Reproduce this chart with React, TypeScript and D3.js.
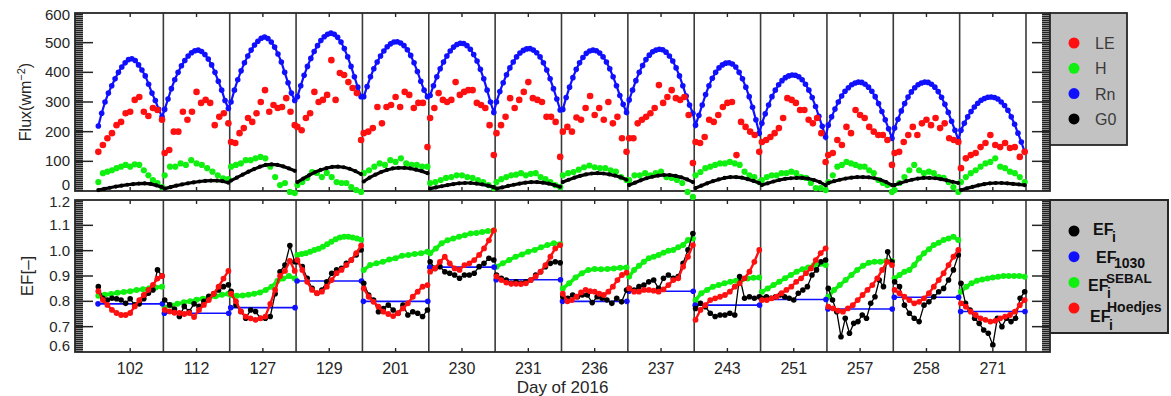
import React, { useEffect, useRef } from 'react';
import * as d3 from 'd3';

const days = ['102', '112', '127', '129', '201', '230', '231', '236', '237', '243', '251', '257', '258', '271'];

// top panel, W m-2, one array per day
const rn = [
  [219, 262, 300, 330, 355, 378, 400, 418, 432, 443, 446, 440, 425, 408, 388, 360, 330, 305, 275, 250],
  [275, 310, 345, 375, 400, 422, 440, 455, 466, 473, 475, 470, 460, 445, 425, 400, 370, 340, 305, 278],
  [300, 340, 375, 405, 432, 455, 475, 492, 505, 515, 519, 514, 502, 485, 462, 435, 400, 365, 330, 305],
  [318, 355, 390, 420, 447, 470, 490, 507, 520, 528, 532, 528, 518, 502, 480, 452, 420, 385, 350, 318],
  [318, 352, 385, 412, 435, 455, 472, 486, 496, 502, 503, 499, 490, 476, 457, 432, 403, 370, 340, 318],
  [322, 355, 385, 412, 435, 455, 472, 485, 494, 498, 497, 490, 478, 460, 438, 410, 378, 340, 300, 265],
  [300, 335, 365, 392, 415, 435, 452, 465, 474, 479, 480, 475, 466, 452, 432, 408, 378, 345, 310, 273],
  [275, 315, 350, 382, 410, 432, 450, 464, 472, 475, 473, 465, 452, 435, 412, 385, 355, 322, 292, 265],
  [307, 340, 372, 400, 423, 443, 458, 469, 475, 478, 476, 468, 455, 438, 415, 388, 355, 320, 290, 262],
  [222, 255, 290, 325, 355, 380, 400, 415, 425, 431, 432, 428, 418, 400, 378, 350, 318, 282, 240, 195],
  [228, 260, 290, 318, 340, 358, 372, 382, 388, 391, 390, 385, 375, 360, 340, 315, 285, 252, 218, 182],
  [222, 250, 276, 300, 320, 336, 348, 358, 364, 367, 366, 360, 350, 336, 318, 295, 268, 240, 210, 178],
  [212, 242, 270, 295, 317, 334, 348, 358, 364, 367, 366, 360, 350, 335, 316, 292, 265, 235, 205, 172],
  [205, 228, 250, 268, 283, 296, 306, 312, 316, 317, 315, 310, 300, 288, 272, 250, 225, 195, 165, 132],
];

const le = [
  [132, 155, 178, 195, 222, 233, 262, 267, 307, 317, 267, 253, 280, 273, 240],
  [128, 138, 200, 200, 267, 240, 267, 334, 297, 307, 297, 222, 250, 262, 228],
  [165, 162, 195, 212, 246, 233, 262, 300, 340, 267, 290, 280, 283, 313, 267, 222],
  [216, 205, 246, 262, 334, 300, 307, 324, 441, 307, 398, 391, 367, 347, 330, 172],
  [195, 200, 212, 283, 228, 283, 290, 317, 283, 334, 324, 280, 297, 297, 148],
  [246, 280, 330, 307, 300, 307, 367, 324, 334, 340, 340, 297, 290, 280, 222, 121],
  [195, 222, 250, 313, 280, 307, 334, 367, 313, 307, 300, 250, 250, 233, 115],
  [200, 216, 200, 248, 240, 280, 320, 256, 280, 240, 300, 228, 250, 178, 132],
  [178, 178, 228, 240, 250, 262, 280, 357, 297, 317, 340, 313, 307, 317, 256, 94],
  [165, 162, 182, 240, 233, 256, 283, 297, 300, 121, 233, 216, 200, 189, 132],
  [165, 172, 182, 195, 212, 246, 313, 307, 297, 273, 273, 240, 228, 246, 195, 98],
  [121, 128, 172, 155, 216, 195, 273, 256, 246, 216, 200, 189, 189, 172, 88],
  [128, 132, 165, 189, 216, 189, 228, 240, 222, 246, 212, 228, 178, 172, 165],
  [77, 110, 121, 128, 148, 162, 189, 155, 148, 162, 145, 148, 115, 132],
];

const h = [
  [30, 60, 65, 70, 77, 82, 88, 82, 90, 88, 70, 53, 37, 27, 13],
  [53, 82, 82, 93, 88, 104, 93, 88, 77, 65, 53, 43, 40],
  [82, 88, 93, 104, 104, 110, 115, 110, 82, 47, 20, 27, -3, -7],
  [20, 30, 44, 64, 61, 47, 61, 47, 30, 27, 27, 13, 3, -3],
  [60, 70, 82, 93, 88, 104, 98, 110, 93, 88, 88, 82, 82],
  [27, 30, 37, 44, 47, 53, 53, 47, 44, 37, 30, 20, 10],
  [30, 40, 47, 53, 55, 60, 53, 58, 60, 47, 40, 30, 20, 13],
  [53, 60, 64, 72, 80, 86, 80, 77, 77, 70, 65, 47, 37],
  [37, 53, 53, 60, 53, 60, 65, 47, 44, 37, 27, -3, -20],
  [53, 64, 77, 82, 88, 93, 93, 98, 93, 88, 65, 53, 47, 30],
  [37, 47, 53, 53, 60, 60, 65, 60, 47, 44, 27, 10, 10, 3],
  [30, 53, 82, 88, 98, 93, 88, 82, 82, 70, 60, 37, 27, 20, -3],
  [3, 27, 47, 70, 88, 70, 60, 65, 60, 47, 44, 30, 13, -3],
  [30, 47, 60, 70, 82, 93, 98, 110, 82, 77, 65, 60, 47, 30],
];

const g0 = [
  [3, 7, 11, 15, 18, 21, 23, 25, 26, 24, 19, 13],
  [8, 13, 18, 22, 26, 29, 32, 34, 35, 35, 33, 28],
  [35, 45, 55, 65, 74, 82, 88, 90, 88, 83, 76, 68],
  [30, 42, 53, 63, 71, 77, 81, 82, 80, 75, 67, 57],
  [32, 45, 55, 64, 71, 76, 78, 78, 76, 72, 67, 60],
  [8, 12, 16, 20, 23, 26, 27, 27, 25, 22, 18, 13],
  [8, 12, 17, 21, 25, 28, 30, 30, 28, 25, 20, 14],
  [30, 38, 45, 51, 56, 59, 60, 59, 56, 52, 46, 38],
  [20, 28, 36, 43, 48, 52, 54, 54, 51, 46, 39, 30],
  [10, 18, 26, 33, 39, 44, 47, 47, 45, 40, 34, 27],
  [20, 26, 32, 37, 41, 43, 44, 44, 42, 37, 30, 20],
  [27, 33, 38, 42, 45, 47, 47, 46, 43, 38, 30, 20],
  [20, 27, 33, 38, 42, 44, 44, 43, 40, 36, 31, 27],
  [3, 9, 14, 19, 23, 26, 27, 27, 26, 24, 22, 20],
];

// bottom panel, evaporative fraction
const efi = [
  [0.858, 0.812, 0.805, 0.812, 0.81, 0.805, 0.792, 0.81, 0.786, 0.79, 0.81, 0.832, 0.845, 0.924, 0.9],
  [0.805, 0.786, 0.77, 0.74, 0.78, 0.76, 0.79, 0.78, 0.8, 0.82, 0.83, 0.845, 0.858, 0.865],
  [0.84, 0.786, 0.76, 0.733, 0.766, 0.76, 0.733, 0.733, 0.74, 0.83, 0.917, 0.943, 1.02, 0.956],
  [0.956, 0.937, 0.891, 0.851, 0.832, 0.845, 0.877, 0.911, 0.924, 0.93, 0.95, 0.963, 0.983, 1.003],
  [0.871, 0.825, 0.805, 0.759, 0.772, 0.785, 0.766, 0.753, 0.785, 0.746, 0.759, 0.753, 0.74, 0.766],
  [0.956, 0.93, 0.937, 0.917, 0.911, 0.904, 0.891, 0.904, 0.904, 0.911, 0.937, 0.95, 0.97, 0.963],
  [0.904, 0.891, 0.884, 0.871, 0.877, 0.871, 0.877, 0.884, 0.904, 0.917, 0.937, 0.95, 0.956, 0.952],
  [0.818, 0.812, 0.825, 0.818, 0.825, 0.825, 0.795, 0.818, 0.812, 0.805, 0.792, 0.812, 0.798, 0.845],
  [0.851, 0.845, 0.858, 0.864, 0.877, 0.884, 0.851, 0.891, 0.904, 0.891, 0.898, 0.95, 1.003, 1.068],
  [0.772, 0.792, 0.779, 0.753, 0.74, 0.746, 0.746, 0.753, 0.746, 0.898, 0.812, 0.818, 0.812, 0.818],
  [0.812, 0.818, 0.812, 0.818, 0.825, 0.818, 0.812, 0.805, 0.832, 0.845, 0.858, 0.904, 0.924, 0.956, 0.963],
  [0.851, 0.805, 0.759, 0.66, 0.733, 0.674, 0.713, 0.72, 0.746, 0.733, 0.792, 0.818, 0.884, 0.858, 0.996, 0.956],
  [0.877, 0.858, 0.785, 0.753, 0.733, 0.72, 0.785, 0.798, 0.818, 0.838, 0.851, 0.884, 0.924, 0.983],
  [0.871, 0.792, 0.766, 0.733, 0.713, 0.687, 0.674, 0.628, 0.733, 0.7, 0.733, 0.72, 0.733, 0.812, 0.838],
];

const ef1030 = [0.79, 0.753, 0.775, 0.88, 0.8, 0.935, 0.885, 0.8, 0.84, 0.785, 0.807, 0.77, 0.816, 0.76];

const efSebal = [
  [0.822, 0.826, 0.829, 0.834, 0.837, 0.84, 0.845, 0.848, 0.852, 0.855, 0.858],
  [0.776, 0.785, 0.79, 0.796, 0.8, 0.806, 0.81, 0.815, 0.82, 0.826, 0.83],
  [0.825, 0.822, 0.823, 0.826, 0.83, 0.835, 0.845, 0.858, 0.88, 0.89, 0.9, 0.89],
  [0.983, 0.987, 0.99, 0.996, 1.003, 1.008, 1.015, 1.025, 1.035, 1.045, 1.052, 1.055, 1.055, 1.052, 1.048, 1.043],
  [0.924, 0.943, 0.95, 0.956, 0.965, 0.97, 0.98, 0.983, 0.987, 0.99, 0.996],
  [0.99, 1.009, 1.029, 1.041, 1.048, 1.055, 1.061, 1.068, 1.07, 1.074, 1.078, 1.08],
  [0.937, 0.95, 0.963, 0.976, 0.985, 0.996, 1.003, 1.013, 1.022, 1.029, 1.025],
  [0.851, 0.871, 0.894, 0.911, 0.924, 0.928, 0.927, 0.928, 0.93, 0.933, 0.934],
  [0.898, 0.924, 0.94, 0.956, 0.97, 0.976, 0.983, 0.992, 1.0, 1.003, 1.013, 1.022, 1.042, 1.048],
  [0.805, 0.832, 0.845, 0.858, 0.864, 0.871, 0.877, 0.881, 0.886, 0.89, 0.893, 0.894],
  [0.838, 0.851, 0.864, 0.877, 0.891, 0.904, 0.917, 0.927, 0.934, 0.943, 0.947, 0.943],
  [0.818, 0.845, 0.864, 0.884, 0.904, 0.924, 0.94, 0.952, 0.956, 0.956, 0.959, 0.959],
  [0.891, 0.904, 0.917, 0.924, 0.943, 0.97, 0.99, 1.006, 1.022, 1.031, 1.042, 1.048, 1.055, 1.042],
  [0.838, 0.858, 0.871, 0.881, 0.886, 0.89, 0.894, 0.897, 0.9, 0.9, 0.9, 0.9, 0.897],
];

const efHoedjes = [
  [0.84, 0.805, 0.786, 0.766, 0.754, 0.746, 0.746, 0.754, 0.78, 0.805, 0.825, 0.845, 0.865, 0.89, 0.9],
  [0.766, 0.76, 0.755, 0.754, 0.75, 0.754, 0.738, 0.766, 0.786, 0.805, 0.83, 0.858, 0.89, 0.92],
  [0.83, 0.8, 0.76, 0.74, 0.733, 0.727, 0.733, 0.74, 0.79, 0.845, 0.9, 0.92, 0.96, 0.92],
  [0.963, 0.924, 0.877, 0.845, 0.832, 0.838, 0.858, 0.884, 0.911, 0.924, 0.943, 0.963, 0.99, 1.02],
  [0.851, 0.818, 0.798, 0.779, 0.759, 0.75, 0.742, 0.753, 0.772, 0.792, 0.818, 0.838, 0.858, 0.864],
  [0.917, 0.93, 0.956, 0.976, 0.95, 0.93, 0.924, 0.943, 0.95, 0.963, 0.983, 1.009, 1.041, 1.08],
  [0.898, 0.884, 0.874, 0.869, 0.869, 0.868, 0.871, 0.884, 0.898, 0.917, 0.943, 0.976, 1.009, 1.022],
  [0.83, 0.8, 0.805, 0.818, 0.835, 0.845, 0.84, 0.838, 0.83, 0.825, 0.838, 0.858, 0.884, 0.904, 0.913],
  [0.851, 0.838, 0.838, 0.845, 0.845, 0.842, 0.838, 0.847, 0.864, 0.884, 0.891, 0.937, 0.976, 1.022],
  [0.727, 0.766, 0.785, 0.805, 0.812, 0.818, 0.825, 0.838, 0.858, 0.871, 0.891, 0.917, 0.956, 1.003],
  [0.805, 0.805, 0.812, 0.818, 0.832, 0.845, 0.858, 0.877, 0.891, 0.911, 0.93, 0.963, 0.99, 1.009],
  [0.779, 0.772, 0.763, 0.759, 0.772, 0.785, 0.805, 0.825, 0.845, 0.864, 0.891, 0.924, 0.956, 0.943],
  [0.845, 0.832, 0.818, 0.805, 0.792, 0.798, 0.812, 0.832, 0.858, 0.884, 0.911, 0.943, 0.976, 1.003],
  [0.792, 0.779, 0.759, 0.746, 0.733, 0.727, 0.72, 0.723, 0.733, 0.74, 0.746, 0.759, 0.785, 0.805],
];

const fluxTicks = [0, 100, 200, 300, 400, 500, 600];
const efTicks = [0.6, 0.7, 0.8, 0.9, 1.0, 1.1, 1.2];

const FONT = '"Liberation Sans", Arial, sans-serif';
const INK = '#262626';
const RED = '#ff1010';
const GREEN = '#10f010';
const BLUE = '#1010ff';

const frameLeft = 75;
const frameRight = 1050;

function App() {
  const ref = useRef(null);

  useEffect(() => {
    const svg = d3.select(ref.current);
    svg.selectAll('*').remove();

    const x = d3.scaleLinear().domain([0, days.length]).range([97, 1026]);
    const yFlux = d3.scaleLinear().domain([0, 600]).range([191, 13]);
    const yEf = d3.scaleLinear().domain([0.6, 1.2]).range([352, 200]);

    // position of k-th sample (of n) inside day slot i
    const px = (i, k, n) => x(i + 0.02 + (0.96 * k) / (n - 1));

    const drawFrame = (y, ticks, fmt) => {
      const [y1, y0] = y.range();
      const g = svg.append('g');

      // dense minor tick bands on both sides
      [frameLeft, frameRight - 8].forEach(bx => {
        g.append('rect')
          .attr('x', bx).attr('y', y0).attr('width', 8).attr('height', y1 - y0)
          .attr('fill', '#8a8a8a');
        d3.range(y0 + 1, y1, 2).forEach(yy => {
          g.append('line')
            .attr('x1', bx).attr('x2', bx + 8)
            .attr('y1', yy + 0.5).attr('y2', yy + 0.5)
            .attr('stroke', '#222').attr('stroke-width', 1);
        });
      });

      // day separators
      d3.range(1, days.length + 1).forEach(i => {
        g.append('line')
          .attr('x1', x(i)).attr('x2', x(i))
          .attr('y1', y0).attr('y2', y1)
          .attr('stroke', '#3a3a3a').attr('stroke-width', 1.6);
      });

      // ticks at day centres
      d3.range(days.length).forEach(i => {
        const cx = x(i + 0.5);
        g.append('line').attr('x1', cx).attr('x2', cx).attr('y1', y0).attr('y2', y0 + 4)
          .attr('stroke', INK).attr('stroke-width', 1.4);
        g.append('line').attr('x1', cx).attr('x2', cx).attr('y1', y1).attr('y2', y1 - 4)
          .attr('stroke', INK).attr('stroke-width', 1.4);
      });

      // major y ticks and labels
      ticks.forEach((t, j) => {
        const ty = y(t);
        if (j > 0 && j < ticks.length - 1) {
          g.append('line').attr('x1', frameLeft).attr('x2', frameLeft + 18)
            .attr('y1', ty).attr('y2', ty).attr('stroke', INK).attr('stroke-width', 1.5);
          g.append('line').attr('x1', frameRight - 18).attr('x2', frameRight)
            .attr('y1', ty).attr('y2', ty).attr('stroke', INK).attr('stroke-width', 1.5);
        }
        const ly = Math.min(Math.max(ty, y0 + 2), y1 - 6);
        g.append('text')
          .attr('x', 70).attr('y', ly + 5)
          .attr('text-anchor', 'end')
          .attr('font-family', FONT).attr('font-size', 15)
          .attr('fill', INK)
          .text(fmt(t));
      });

      g.append('rect')
        .attr('x', frameLeft).attr('y', y0)
        .attr('width', frameRight - frameLeft).attr('height', y1 - y0)
        .attr('fill', 'none').attr('stroke', INK).attr('stroke-width', 1.8);
    };

    drawFrame(yFlux, fluxTicks, d => String(d));
    drawFrame(yEf, efTicks, d => d.toFixed(1));

    const dots = (data, y, color, r) => {
      data.forEach((vals, i) => {
        svg.append('g').selectAll('circle').data(vals).enter().append('circle')
          .attr('cx', (d, k) => px(i, k, vals.length))
          .attr('cy', d => y(d))
          .attr('r', r)
          .attr('fill', color);
      });
    };

    const dayLines = (data, y, color, w) => {
      data.forEach((vals, i) => {
        const line = d3.line()
          .x((d, k) => px(i, k, vals.length))
          .y(d => y(d));
        svg.append('path')
          .attr('d', line(vals))
          .attr('fill', 'none').attr('stroke', color).attr('stroke-width', w)
          .attr('stroke-linejoin', 'round');
      });
    };

    // --- top panel
    const rnPoints = [];
    rn.forEach((vals, i) => vals.forEach((v, k) => rnPoints.push([px(i, k, vals.length), yFlux(v)])));
    svg.append('path')
      .attr('d', d3.line()(rnPoints))
      .attr('fill', 'none').attr('stroke', BLUE).attr('stroke-width', 2.2);
    svg.append('g').selectAll('circle').data(rnPoints).enter().append('circle')
      .attr('cx', d => d[0]).attr('cy', d => d[1]).attr('r', 2.8).attr('fill', BLUE);

    dots(h, yFlux, GREEN, 3.1);
    dayLines(g0, yFlux, '#000', 3.2);
    dots(g0, yFlux, '#000', 2.1);
    dots(le, yFlux, RED, 3.3);

    // --- bottom panel
    dayLines(efSebal, yEf, GREEN, 3.5);
    dots(efSebal, yEf, GREEN, 3);

    ef1030.forEach((v, i) => {
      const yy = yEf(v);
      svg.append('line')
        .attr('x1', x(i)).attr('x2', x(i + 1)).attr('y1', yy).attr('y2', yy)
        .attr('stroke', BLUE).attr('stroke-width', 1.6);
      [x(i) + 1, x(i + 1) - 1].forEach(cx => {
        svg.append('circle').attr('cx', cx).attr('cy', yy).attr('r', 2.8).attr('fill', BLUE);
      });
    });

    dayLines(efi, yEf, '#000', 1.3);
    dots(efi, yEf, '#000', 2.8);
    dayLines(efHoedjes, yEf, RED, 2.4);
    dots(efHoedjes, yEf, RED, 2.9);

    // --- axis titles
    days.forEach((d, i) => {
      svg.append('text')
        .attr('x', x(i + 0.5)).attr('y', 374)
        .attr('text-anchor', 'middle')
        .attr('font-family', FONT).attr('font-size', 16).attr('fill', INK)
        .text(d);
    });
    svg.append('text')
      .attr('x', (frameLeft + frameRight) / 2).attr('y', 393)
      .attr('text-anchor', 'middle')
      .attr('font-family', FONT).attr('font-size', 17).attr('fill', INK)
      .text('Day of 2016');

    const flux = svg.append('text')
      .attr('transform', 'translate(31,102) rotate(-90)')
      .attr('text-anchor', 'middle')
      .attr('font-family', FONT).attr('font-size', 16).attr('fill', INK);
    flux.append('tspan').text('Flux(wm');
    flux.append('tspan').attr('dy', -6).attr('font-size', 11).text('−2');
    flux.append('tspan').attr('dy', 6).text(')');

    svg.append('text')
      .attr('transform', 'translate(33,276) rotate(-90)')
      .attr('text-anchor', 'middle')
      .attr('font-family', FONT).attr('font-size', 17).attr('fill', INK)
      .text('EF[–]');

    // --- legends
    const legTop = svg.append('g');
    legTop.append('rect')
      .attr('x', 1050).attr('y', 13).attr('width', 77).attr('height', 132)
      .attr('fill', '#c2c2c2').attr('stroke', INK).attr('stroke-width', 1.8);
    [['LE', RED], ['H', GREEN], ['Rn', BLUE], ['G0', '#000']].forEach(([label, color], j) => {
      const ly = 43 + j * 25.3;
      legTop.append('circle').attr('cx', 1074).attr('cy', ly).attr('r', 5.5).attr('fill', color);
      legTop.append('text')
        .attr('x', 1095).attr('y', ly + 6)
        .attr('font-family', FONT).attr('font-size', 16).attr('fill', '#3a3a3a')
        .text(label);
    });

    const legBot = svg.append('g');
    legBot.append('rect')
      .attr('x', 1050).attr('y', 200).attr('width', 118).attr('height', 133)
      .attr('fill', '#c2c2c2').attr('stroke', INK).attr('stroke-width', 2);
    ['#000', BLUE, GREEN, RED].forEach((color, j) => {
      legBot.append('circle').attr('cx', 1074).attr('cy', 231 + j * 25.7).attr('r', 5.5).attr('fill', color);
    });
    const legText = (tx, ty, size, s) => {
      legBot.append('text')
        .attr('x', tx).attr('y', ty)
        .attr('font-family', FONT).attr('font-weight', 'bold')
        .attr('font-size', size).attr('fill', '#111')
        .text(s);
    };
    legText(1093, 235, 16, 'EF');
    legText(1112, 242, 14, 'i');
    legText(1096, 263, 16, 'EF');
    legText(1114, 268, 14, '1030');
    legText(1088, 291, 16, 'EF');
    legText(1107, 298, 14, 'i');
    legText(1106, 283, 13.5, 'SEBAL');
    legText(1090, 322, 16, 'EF');
    legText(1109, 330, 14, 'i');
    legText(1107, 312, 14, 'Hoedjes');
  }, []);

  return (
    <div style={{ position: 'absolute', left: 0, top: 0 }}>
      <svg ref={ref} width={1171} height={396} style={{ display: 'block', background: '#fff' }} />
    </div>
  );
}

export default App;
